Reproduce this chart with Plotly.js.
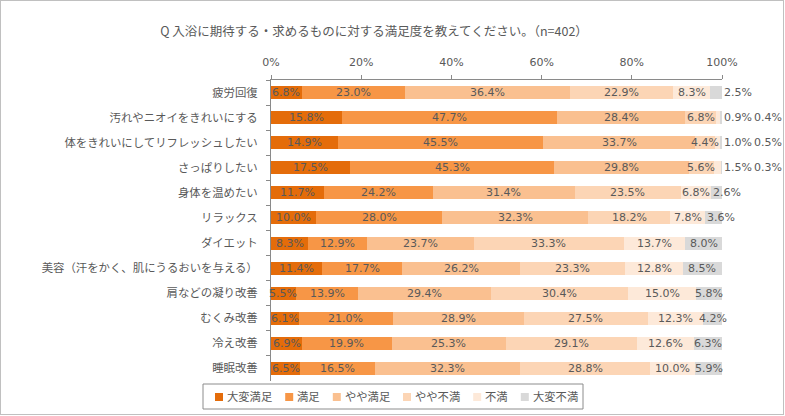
<!DOCTYPE html>
<html>
<head>
<meta charset="utf-8">
<script src="https://cdn.plot.ly/plotly-3.0.1.min.js"></script>
<style>
html,body{margin:0;padding:0;background:#fff;}
#wrap{position:relative;width:785px;height:416px;}
#chart{width:785px;height:416px;}
#frame{position:absolute;left:0;top:0;width:784px;height:415px;border:1px solid #c0c0c0;box-sizing:border-box;pointer-events:none;}
</style>
</head>
<body>
<div id="wrap"><div id="chart"></div><div id="frame"></div></div>
<script>
// ---- data ----
const categories = [
  "疲労回復",
  "汚れやニオイをきれいにする",
  "体をきれいにしてリフレッシュしたい",
  "さっぱりしたい",
  "身体を温めたい",
  "リラックス",
  "ダイエット",
  "美容（汗をかく、肌にうるおいを与える）",
  "肩などの凝り改善",
  "むくみ改善",
  "冷え改善",
  "睡眠改善"
];
const seriesNames = ["大変満足", "満足", "やや満足", "やや不満", "不満", "大変不満"];
const veryHappy   = [6.8, 15.8, 14.9, 17.5, 11.7, 10.0, 8.3, 11.4, 5.5, 6.1, 6.9, 6.5];
const happy       = [23.0, 47.7, 45.5, 45.3, 24.2, 28.0, 12.9, 17.7, 13.9, 21.0, 19.9, 16.5];
const ratherHappy = [36.4, 28.4, 33.7, 29.8, 31.4, 32.3, 23.7, 26.2, 29.4, 28.9, 25.3, 32.3];
const ratherUnhappy = [22.9, 6.8, 4.4, 5.6, 23.5, 18.2, 33.3, 23.3, 30.4, 27.5, 29.1, 28.8];
const unhappy     = [8.3, 0.9, 1.0, 1.5, 6.8, 7.8, 13.7, 12.8, 15.0, 12.3, 12.6, 10.0];
const veryUnhappy = [2.5, 0.4, 0.5, 0.3, 2.6, 3.6, 8.0, 8.5, 5.8, 4.2, 6.3, 5.9];
const xTicks = [0, 20, 40, 60, 80, 100];
const xTickLabels = ["0%", "20%", "40%", "60%", "80%", "100%"];
const titleText = "Q 入浴に期待する・求めるものに対する満足度を教えてください。（n=402）";

// ---- styling ----
const series = [veryHappy, happy, ratherHappy, ratherUnhappy, unhappy, veryUnhappy];
const colors = ["#E46C0A", "#F79646", "#FAC090", "#FCD5B5", "#FDE9D9", "#D9D9D9"];
const txtColor = "#595959";
const jpFont = "Noto Sans CJK JP, sans-serif";
const numFont = "DejaVu Sans, Noto Sans CJK JP, sans-serif";

const W = 785, H = 416;
const margin = {l: 271, r: 63, t: 80, b: 35};
const plotW = W - margin.l - margin.r;
const plotH = H - margin.t - margin.b;
const px2x = p => (p - margin.l) / plotW;
const px2y = p => (H - margin.b - p) / plotH;

const traces = series.map((vals, i) => ({
  type: "bar",
  orientation: "h",
  name: seriesNames[i],
  x: vals,
  y: categories,
  marker: {color: colors[i], line: {width: 0}},
  hoverinfo: "skip",
  showlegend: false
}));

// data labels
const annotations = [];
categories.forEach((cat, r) => {
  let cum = 0;
  const unhappyOut = unhappy[r] < 2;
  series.forEach((vals, i) => {
    const v = vals[r];
    const a = {
      x: cum + v / 2, y: cat, xref: "x", yref: "y",
      text: v.toFixed(1) + "%", showarrow: false,
      font: {family: numFont, size: 11, color: txtColor},
      xanchor: "center", yanchor: "middle"
    };
    if (i === 4 && unhappyOut) {
      a.x = 100; a.xanchor = "left"; a.xshift = 0;
    }
    if (i === 5) {
      if (unhappyOut) {
        a.x = 100; a.xanchor = "left"; a.xshift = 30;
      } else if (v < 2.55) {
        a.x = 100; a.xanchor = "left"; a.xshift = 0;
      } else if (v < 4) {
        a.x = cum; a.xanchor = "left"; a.xshift = 0;
      }
    }
    annotations.push(a);
    cum += v;
  });
});

// custom legend
const shapes = [];
const legY = 397, legCharW = 11.3;
let lx = 215;
seriesNames.forEach((nm, i) => {
  shapes.push({
    type: "rect", xref: "paper", yref: "paper",
    x0: px2x(lx), x1: px2x(lx + 8), y0: px2y(legY + 4), y1: px2y(legY - 4),
    fillcolor: colors[i], line: {width: 0}
  });
  annotations.push({
    xref: "paper", yref: "paper", x: px2x(lx + 10), y: px2y(legY - 1),
    text: nm, showarrow: false, xanchor: "left", yanchor: "middle",
    font: {family: jpFont, size: 11.3, color: txtColor}
  });
  lx += 8 + 3 + nm.length * legCharW + 14;
});
shapes.push({
  type: "rect", xref: "paper", yref: "paper",
  x0: px2x(203), x1: px2x(583), y0: px2y(409), y1: px2y(384),
  fillcolor: "rgba(0,0,0,0)", line: {color: "#8c8c8c", width: 1}
});

const layout = {
  width: W, height: H,
  margin: margin,
  paper_bgcolor: "#fff", plot_bgcolor: "#fff",
  barmode: "stack",
  bargap: 0.48,
  title: {
    text: titleText, x: 374 / W, xanchor: "center", xref: "container",
    y: 1 - 32 / H, yanchor: "middle", yref: "container",
    font: {family: jpFont, size: 12.5, color: txtColor}
  },
  xaxis: {
    side: "top", range: [0, 100], tickvals: xTicks, ticktext: xTickLabels,
    showgrid: false, zeroline: false, showline: true, linecolor: "#8a8a8a", linewidth: 1,
    ticks: "outside", ticklen: 4, tickcolor: "#8a8a8a",
    ticklabelstandoff: 5,
    tickfont: {family: numFont, size: 11, color: txtColor}, fixedrange: true
  },
  yaxis: {
    type: "category", autorange: "reversed",
    showgrid: false, zeroline: false, showline: true, linecolor: "#8a8a8a", linewidth: 1,
    ticks: "outside", tickson: "boundaries", ticklen: 4, tickcolor: "#8a8a8a",
    ticklabelstandoff: 10,
    tickfont: {family: jpFont, size: 11.4, color: txtColor}, fixedrange: true
  },
  annotations: annotations,
  shapes: shapes,
  showlegend: false
};

Plotly.newPlot("chart", traces, layout, {displayModeBar: false, staticPlot: true});
</script>
</body>
</html>
